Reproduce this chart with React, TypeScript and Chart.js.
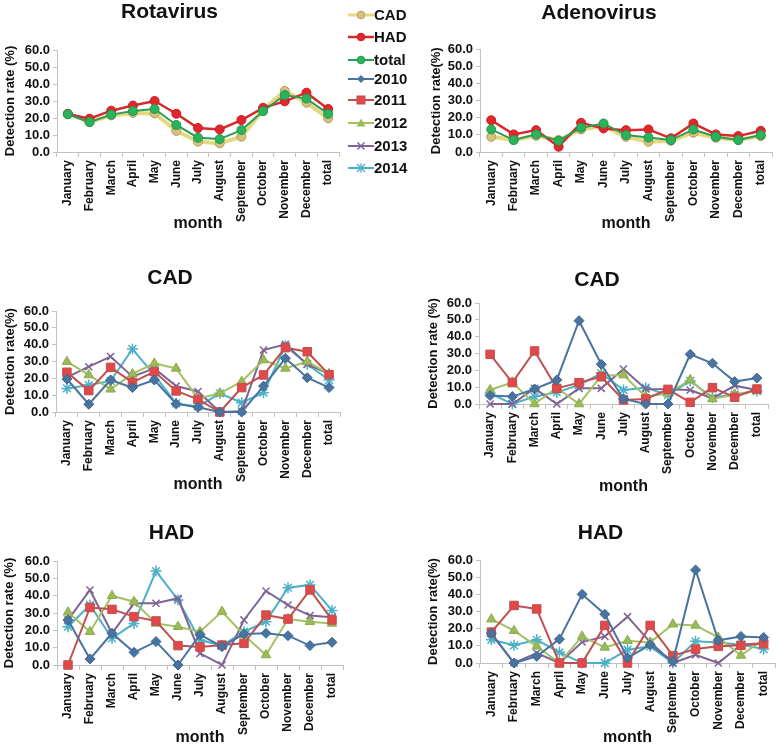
import React, { useEffect, useRef } from "react";
import { Chart, registerables } from "chart.js";

Chart.register(...registerables);

const FONT = "'Liberation Sans', Arial, Helvetica, sans-serif";

// ---------- categories & ticks ----------
const months = [
  "January", "February", "March", "April", "May", "June", "July",
  "August", "September", "October", "November", "December", "total",
];
const yTickValues = [0, 10, 20, 30, 40, 50, 60];

// ---------- Rotavirus (CAD / HAD / total) ----------
const rotaCAD = [22.5, 17.5, 21.5, 23, 22.7, 12.4, 6.1, 5.1, 9, 24.7, 35.9, 29, 19.8];
const rotaHAD = [22.4, 19.6, 24.3, 27.3, 30, 22.5, 14.1, 13.3, 18.8, 26, 29.8, 34.9, 25.3];
const rotaTotal = [22.2, 17.6, 22, 24.1, 25.3, 15.9, 8.4, 7.6, 12.9, 24, 33.5, 31.4, 22.4];

// ---------- Adenovirus (CAD / HAD / total) ----------
const adenoCAD = [8.9, 7, 9.5, 7, 13.2, 15.3, 8.9, 6, 6.6, 11.3, 8.3, 7, 9.3];
const adenoHAD = [18.6, 10.3, 12.8, 3.1, 17.1, 13.8, 12.8, 13.2, 8, 16.7, 10.3, 9.3, 12.4];
const adenoTotal = [13.2, 7, 10.3, 6.6, 14.2, 16.7, 9.9, 8.5, 7, 13.2, 8.9, 7, 9.9];

// ---------- Rotavirus CAD by year ----------
const rotaCAD2010 = [19.6, 4.6, 19, 14.5, 19, 4.8, 2.8, 0, 0, 15.4, 31.9, 20.4, 14.5];
const rotaCAD2011 = [23.6, 12.7, 26.5, 17.6, 24, 12.5, 7.5, 0, 14.5, 22, 38.2, 35.8, 22.2];
const rotaCAD2012 = [29.9, 22, 13.5, 22.6, 28.9, 25.9, 7.9, 11.1, 18, 30.9, 25.9, 29.9, 22.6];
const rotaCAD2013 = [20.6, 26.9, 32.9, 21, 25.9, 15.4, 12.2, 0, 0.5, 36.8, 40.2, 28.4, 22.5];
const rotaCAD2014 = [14, 16, 18.5, 37.4, 22, 5.1, 3.2, 11.1, 5.5, 11.5, 39.2, 28.4, 19];

// ---------- Adenovirus CAD by year ----------
const adenoCAD2010 = [5, 4.4, 8.9, 14.3, 49.5, 23.6, 3, 0, 0, 29.5, 24.2, 13.3, 15.4];
const adenoCAD2011 = [29.5, 12.7, 31.5, 9.3, 12.7, 16.2, 2.4, 3, 8.7, 1, 9.7, 4, 8.9];
const adenoCAD2012 = [8.3, 12.9, 0, 9.7, 0, 16.8, 17.2, 4.4, 6.3, 14.3, 3, 5.7, 7.9];
const adenoCAD2013 = [0, 0, 9.3, 0, 9.3, 9.3, 20.8, 8.9, 8.7, 8.3, 3.4, 10.9, 8.3];
const adenoCAD2014 = [6.3, 0, 4.4, 6.9, 11.3, 18.2, 8.3, 9.7, 5.3, 13.7, 3.8, 5.7, 7.7];

// ---------- Rotavirus HAD by year ----------
const rotaHAD2010 = [26, 3.5, 18.3, 7.3, 13.5, 0, 17.5, 10.6, 17.9, 18.3, 16.9, 11.2, 13.1];
const rotaHAD2011 = [0, 33.2, 32.1, 27.9, 25.4, 11.2, 10.4, 11.5, 12.5, 28.8, 26.5, 43.3, 26];
const rotaHAD2012 = [30.4, 19.2, 40, 36.5, 24, 22.1, 19.2, 30.8, 17.3, 5.8, 26.5, 25, 24];
const rotaHAD2013 = [26, 43.3, 18.3, 35.6, 35.6, 38.5, 6.7, 0, 26, 42.7, 34.6, 28.5, 27.5];
const rotaHAD2014 = [22.1, 34.6, 15.4, 24, 54.2, 37.5, 14.4, 11.2, 19.2, 25, 44.6, 46.2, 31.5];

// ---------- Adenovirus HAD by year ----------
const adenoHAD2010 = [17.4, 0, 3.9, 13.9, 40, 28.4, 3, 10.6, 1, 54.2, 13.2, 15.5, 14.9];
const adenoHAD2011 = [18, 33.5, 31.5, 0, 0, 21.9, 0, 21.9, 4.3, 8.1, 9.7, 10.3, 11.2];
const adenoHAD2012 = [25.5, 18.8, 9.7, 0, 15.5, 9.1, 13, 12, 22.6, 21.9, 14.9, 4.4, 13.9];
const adenoHAD2013 = [17, 0, 5.8, 0, 12.2, 15.5, 27, 12.2, 0, 4.8, 0, 10.6, 11.6];
const adenoHAD2014 = [13.5, 10.3, 13.5, 6.2, 0, 0, 7.7, 9.7, 0, 12.6, 12, 10.6, 8.1];

// ---------- styles ----------
type Style = {
  label: string;
  line: string;
  width: number;
  pointStyle: string;
  radius: number;
  fill: string;
  stroke: string;
  pbw: number;
  order: number;
};

const summaryStyles: Style[] = [
  { label: "CAD", line: "#e6d87c", width: 4, pointStyle: "circle", radius: 4.5, fill: "#d8c07e", stroke: "#b39a55", pbw: 1, order: 2 },
  { label: "HAD", line: "#d52a2c", width: 2.5, pointStyle: "circle", radius: 4.5, fill: "#e3262b", stroke: "#c81e24", pbw: 1, order: 1 },
  { label: "total", line: "#2c9a58", width: 2, pointStyle: "circle", radius: 4.5, fill: "#2ab35c", stroke: "#1f9a4c", pbw: 1, order: 0 },
];

const yearStyles: Style[] = [
  { label: "2010", line: "#4a74a0", width: 2, pointStyle: "rectRot", radius: 5, fill: "#4a74a0", stroke: "#3f6690", pbw: 1, order: 0 },
  { label: "2011", line: "#c0504d", width: 2, pointStyle: "rect", radius: 6, fill: "#e0484a", stroke: "#c0504d", pbw: 1, order: 1 },
  { label: "2012", line: "#a4c063", width: 2, pointStyle: "triangle", radius: 5.5, fill: "#9bbb59", stroke: "#8aab4a", pbw: 1, order: 2 },
  { label: "2013", line: "#7e6394", width: 2, pointStyle: "crossRot", radius: 5, fill: "#7e6394", stroke: "#7e6394", pbw: 1.5, order: 3 },
  { label: "2014", line: "#4bb0c8", width: 2, pointStyle: "star", radius: 5.5, fill: "#4bb0c8", stroke: "#4bb0c8", pbw: 1.5, order: 4 },
];

type Spec = {
  title: string;
  yTitle: string;
  styles: Style[];
  series: number[][];
  canvasLeft: number;
  width: number;
  titleY: number;
  chartLeft: number;
  chartRight: number;
  chartTop: number;
  chartBottom: number;
  monthY: number;
  yTitleX: number;
};

const panels: Spec[] = [
  {
    title: "Rotavirus", yTitle: "Detection rate (%)", styles: summaryStyles,
    series: [rotaCAD, rotaHAD, rotaTotal],
    canvasLeft: 0, width: 390, titleY: 12, chartLeft: 57, chartRight: 339,
    chartTop: 50, chartBottom: 152, monthY: 223, yTitleX: 10,
  },
  {
    title: "Adenovirus", yTitle: "Detection rate(%)", styles: summaryStyles,
    series: [adenoCAD, adenoHAD, adenoTotal],
    canvasLeft: 426, width: 374, titleY: 13, chartLeft: 480, chartRight: 772,
    chartTop: 49.5, chartBottom: 152, monthY: 223, yTitleX: 436,
  },
  {
    title: "CAD", yTitle: "Detection rate(%)", styles: yearStyles,
    series: [rotaCAD2010, rotaCAD2011, rotaCAD2012, rotaCAD2013, rotaCAD2014],
    canvasLeft: 0, width: 390, titleY: 278, chartLeft: 56, chartRight: 340,
    chartTop: 311, chartBottom: 412, monthY: 484, yTitleX: 10,
  },
  {
    title: "CAD", yTitle: "Detection rate (%)", styles: yearStyles,
    series: [adenoCAD2010, adenoCAD2011, adenoCAD2012, adenoCAD2013, adenoCAD2014],
    canvasLeft: 426, width: 374, titleY: 280, chartLeft: 479, chartRight: 768,
    chartTop: 303, chartBottom: 404, monthY: 486, yTitleX: 433,
  },
  {
    title: "HAD", yTitle: "Detection rate (%)", styles: yearStyles,
    series: [rotaHAD2010, rotaHAD2011, rotaHAD2012, rotaHAD2013, rotaHAD2014],
    canvasLeft: 0, width: 390, titleY: 533, chartLeft: 57, chartRight: 343,
    chartTop: 561, chartBottom: 665, monthY: 737, yTitleX: 9,
  },
  {
    title: "HAD", yTitle: "Detection rate(%)", styles: yearStyles,
    series: [adenoHAD2010, adenoHAD2011, adenoHAD2012, adenoHAD2013, adenoHAD2014],
    canvasLeft: 426, width: 374, titleY: 533, chartLeft: 480, chartRight: 775,
    chartTop: 560, chartBottom: 663, monthY: 737, yTitleX: 433,
  },
];

const TITLE_SIZE = 21;
const TITLE_LH = TITLE_SIZE * 1.2;
const MONTH_SIZE = 16;
const MONTH_LH = MONTH_SIZE * 1.2;
const YTITLE_SIZE = 13;
const YTITLE_LH = YTITLE_SIZE * 1.2;
const AXIS_COLOR = "#c2c2c2";

function geometry(s: Spec) {
  const canvasTop = Math.floor(s.titleY - TITLE_LH / 2);
  const titlePadTop = s.titleY - TITLE_LH / 2 - canvasTop;
  const titlePadBottom = s.chartTop - canvasTop - titlePadTop - TITLE_LH;
  const height = Math.ceil(s.monthY + MONTH_LH / 2 - canvasTop);
  const xAxisHeight = canvasTop + height - s.chartBottom;
  const yAxisWidth = s.chartLeft - s.canvasLeft;
  const padRight = s.canvasLeft + s.width - s.chartRight;
  const yTitlePad = Math.max(0, s.yTitleX - s.canvasLeft - YTITLE_LH / 2);
  return { canvasTop, titlePadTop, titlePadBottom, height, xAxisHeight, yAxisWidth, padRight, yTitlePad };
}

function Panel({ spec }: { spec: Spec }) {
  const ref = useRef<HTMLCanvasElement | null>(null);
  const g = geometry(spec);

  useEffect(() => {
    if (!ref.current) return;
    const datasets = spec.styles.map((st, i) => ({
      label: st.label,
      data: spec.series[i],
      borderColor: st.line,
      backgroundColor: st.fill,
      borderWidth: st.width,
      pointStyle: st.pointStyle as any,
      pointRadius: st.radius,
      pointBackgroundColor: st.fill,
      pointBorderColor: st.stroke,
      pointBorderWidth: st.pbw,
      tension: 0,
      fill: false,
      clip: false as any,
      order: st.order,
    }));

    const chart = new Chart(ref.current, {
      type: "line",
      data: { labels: months, datasets },
      options: {
        responsive: false,
        animation: false,
        devicePixelRatio: 1,
        events: [],
        layout: { padding: { left: 0, top: 0, right: g.padRight, bottom: 0 } },
        plugins: {
          legend: { display: false },
          tooltip: { enabled: false },
          title: {
            display: true,
            text: spec.title,
            color: "#111",
            font: { family: FONT, size: TITLE_SIZE, weight: "bold" },
            padding: { top: g.titlePadTop, bottom: g.titlePadBottom },
          },
        },
        scales: {
          x: {
            type: "category",
            offset: true,
            grid: {
              offset: true,
              drawOnChartArea: false,
              drawTicks: true,
              tickLength: 5,
              color: AXIS_COLOR,
            },
            border: { color: AXIS_COLOR, width: 1 },
            ticks: {
              autoSkip: false,
              minRotation: 90,
              maxRotation: 90,
              padding: 3,
              color: "#111",
              font: { family: FONT, size: 12, weight: "bold" },
            },
            title: {
              display: true,
              text: "month",
              color: "#111",
              font: { family: FONT, size: MONTH_SIZE, weight: "bold" },
              padding: { top: 0, bottom: 0 },
            },
            afterFit: (scale: any) => {
              scale.height = g.xAxisHeight;
            },
          },
          y: {
            min: 0,
            max: 60,
            afterBuildTicks: (scale: any) => {
              scale.ticks = yTickValues.map((v) => ({ value: v }));
            },
            grid: {
              drawOnChartArea: false,
              drawTicks: true,
              tickLength: 4,
              color: AXIS_COLOR,
            },
            border: { color: AXIS_COLOR, width: 1 },
            ticks: {
              autoSkip: false,
              padding: 3,
              color: "#111",
              font: { family: FONT, size: 13, weight: "bold" },
              callback: (v: any) => Number(v).toFixed(1),
            },
            title: {
              display: true,
              text: spec.yTitle,
              color: "#111",
              font: { family: FONT, size: YTITLE_SIZE, weight: "bold" },
              padding: { top: g.yTitlePad, bottom: 0 },
            },
            afterFit: (scale: any) => {
              scale.width = g.yAxisWidth;
            },
          },
        },
      } as any,
    });
    return () => chart.destroy();
  }, []);

  return (
    <canvas
      ref={ref}
      width={spec.width}
      height={g.height}
      style={{
        position: "absolute",
        left: spec.canvasLeft,
        top: g.canvasTop,
        width: spec.width,
        height: g.height,
      }}
    />
  );
}

// ---------- legend (shared) ----------
const legendLabels = ["CAD", "HAD", "total", "2010", "2011", "2012", "2013", "2014"];
const legendRowsY = [15, 37, 60, 79, 100, 123, 146, 168];

function Marker({ st }: { st: Style }) {
  const cx = 13;
  const cy = 7;
  switch (st.pointStyle) {
    case "circle":
      return <circle cx={cx} cy={cy} r={3.8} fill={st.fill} stroke={st.stroke} strokeWidth={1} />;
    case "rectRot":
      return <polygon points={`${cx},${cy - 4} ${cx + 4},${cy} ${cx},${cy + 4} ${cx - 4},${cy}`} fill={st.fill} />;
    case "rect":
      return <rect x={cx - 4} y={cy - 4} width={8} height={8} fill={st.fill} stroke={st.stroke} />;
    case "triangle":
      return <polygon points={`${cx},${cy - 4.5} ${cx + 4.5},${cy + 3.5} ${cx - 4.5},${cy + 3.5}`} fill={st.fill} />;
    case "crossRot":
      return (
        <g stroke={st.stroke} strokeWidth={1.5}>
          <line x1={cx - 3.5} y1={cy - 3.5} x2={cx + 3.5} y2={cy + 3.5} />
          <line x1={cx - 3.5} y1={cy + 3.5} x2={cx + 3.5} y2={cy - 3.5} />
        </g>
      );
    default:
      return (
        <g stroke={st.stroke} strokeWidth={1.3}>
          <line x1={cx - 4} y1={cy - 4} x2={cx + 4} y2={cy + 4} />
          <line x1={cx - 4} y1={cy + 4} x2={cx + 4} y2={cy - 4} />
          <line x1={cx} y1={cy - 4.5} x2={cx} y2={cy + 4.5} />
        </g>
      );
  }
}

function Legend() {
  const all = [...summaryStyles, ...yearStyles];
  return (
    <div style={{ position: "absolute", left: 348, top: 0, zIndex: 2 }}>
      {legendLabels.map((lab, i) => {
        const st = all.find((s) => s.label === lab)!;
        return (
          <div
            key={lab}
            style={{
              position: "absolute",
              left: 0,
              top: legendRowsY[i] - 9,
              height: 18,
              display: "flex",
              alignItems: "center",
              whiteSpace: "nowrap",
            }}
          >
            <svg width={26} height={14} style={{ display: "block" }}>
              <line x1={0} y1={7} x2={26} y2={7} stroke={st.line} strokeWidth={Math.min(st.width, 3)} />
              <Marker st={st} />
            </svg>
            <span
              style={{
                fontFamily: FONT,
                fontWeight: "bold",
                fontSize: 15,
                color: "#111",
                marginLeft: 0,
                lineHeight: "18px",
              }}
            >
              {lab}
            </span>
          </div>
        );
      })}
    </div>
  );
}

export default function App() {
  return (
    <div
      style={{
        position: "absolute",
        left: 0,
        top: 0,
        width: 778,
        height: 744,
        overflow: "hidden",
        background: "#fff",
      }}
    >
      {panels.map((p, i) => (
        <Panel key={i} spec={p} />
      ))}
      <Legend />
    </div>
  );
}
